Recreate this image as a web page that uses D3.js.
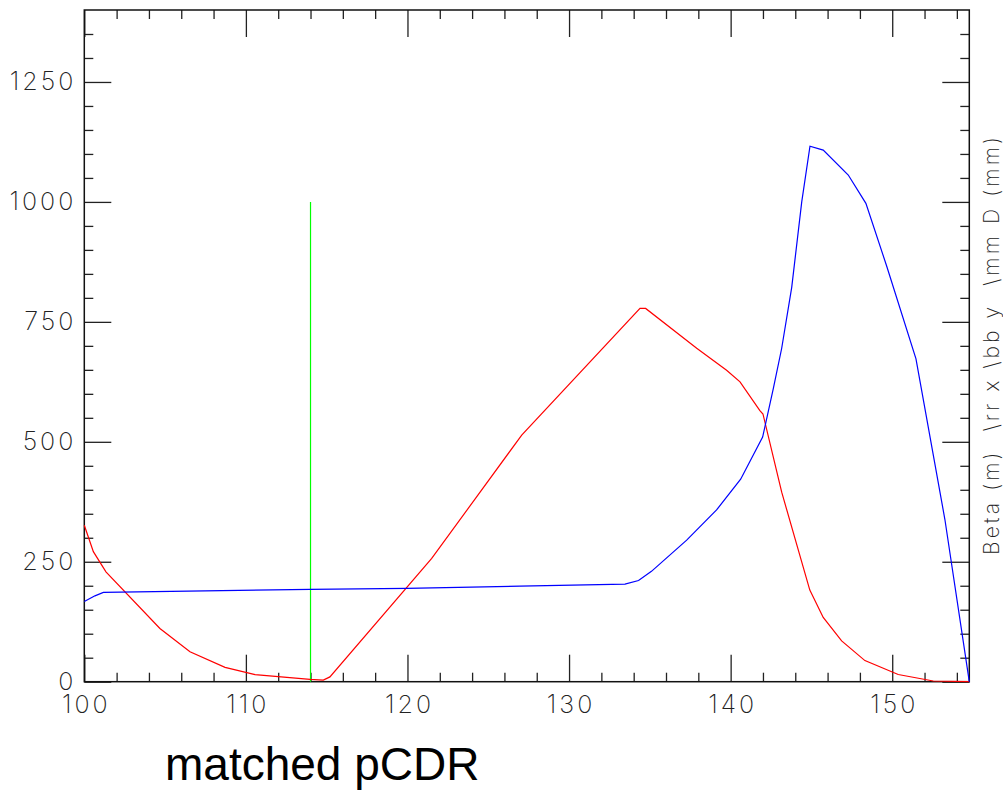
<!DOCTYPE html>
<html>
<head>
<meta charset="utf-8">
<script src="https://cdn.jsdelivr.net/npm/d3@7"></script>
<style>
  body { margin: 0; background: #fff; }
  svg { display: block; }
  .tick text { font-family: "Inter", "DejaVu Sans", sans-serif; font-weight: 200; fill: #222; letter-spacing: 3px; }
</style>
</head>
<body>
<svg id="chart"></svg>
<script>
// red curve (position along beamline vs value)
const redX = [100, 100.56, 101.34, 104.68, 106.54, 108.71, 110.57, 113.97, 114.79, 115.2,
  121.5, 127.07, 134.39, 134.74, 137.9, 139.75, 140.58, 141.81, 142.0, 143.16,
  144.9, 145.73, 146.87, 148.31, 150.37, 152.54, 154.77];
const redY = [326, 271, 229, 111, 62.5, 30, 14.6, 5, 3.5, 10,
  257, 514, 778, 778, 695, 649, 625, 565, 558, 395,
  191, 134, 85, 44, 15, 1.5, 0];

// blue curve
const blueX = [100, 100.66, 101.18, 113.97, 119.95, 126.96, 133.46, 134.3, 135.1, 137.28,
  139.13, 140.62, 141.98, 142.64, 143.16, 143.78, 144.4, 144.91, 145.73, 147.28,
  148.37, 149.65, 151.47, 153.26, 154.77];
const blueY = [167, 179, 186, 192.5, 194.5, 199, 203.5, 211, 230, 295,
  358, 422, 510, 611, 695, 822, 1000, 1116, 1108, 1056,
  997, 867, 673, 338, 0];

// green marker line
const greenX = [114, 114];
const greenY = [0, 1000];

const xMajorTicks = [100, 110, 120, 130, 140, 150];
const xTickLabels = ["100", "110", "120", "130", "140", "150"];
const yMajorTicks = [0, 250, 500, 750, 1000, 1250];
const yTickLabels = ["0", "250", "500", "750", "1000", "1250"];

const xDomain = [100, 154.77];
const yDomain = [0, 1400];

const W = 1003, H = 790;
const margin = {top: 10, right: 33.7, bottom: 108.3, left: 84.3};
const width = W - margin.left - margin.right;
const height = H - margin.top - margin.bottom;

const svg = d3.select("#chart").attr("width", W).attr("height", H);
const g = svg.append("g").attr("transform", `translate(${margin.left},${margin.top})`);

const x = d3.scaleLinear().domain(xDomain).range([0, width]);
const y = d3.scaleLinear().domain(yDomain).range([height, 0]);

const xMinor = d3.range(102, 155, 2).filter(v => v % 10 !== 0);
const yMinor = d3.range(50, 1400, 50).filter(v => v % 250 !== 0);

// styling helper for tick axes
function styleAxis(sel) {
  sel.select(".domain").remove();
  sel.selectAll(".tick line").attr("stroke", "#222").attr("stroke-width", 1.3);
}

// bottom
g.append("g").attr("transform", `translate(0,${height})`)
  .call(d3.axisBottom(x).tickValues(xMinor).tickSize(-9).tickFormat(""))
  .call(styleAxis);
g.append("g").attr("transform", `translate(0,${height})`)
  .call(d3.axisBottom(x).tickValues(xMajorTicks).tickSize(-27).tickPadding(14)
    .tickFormat((d, i) => xTickLabels[i]))
  .call(styleAxis)
  .selectAll("text").attr("font-size", 25).attr("dx", 1.5);

// top
g.append("g")
  .call(d3.axisTop(x).tickValues(xMinor).tickSize(-9).tickFormat(""))
  .call(styleAxis);
g.append("g")
  .call(d3.axisTop(x).tickValues(xMajorTicks).tickSize(-27).tickFormat(""))
  .call(styleAxis);

// left
g.append("g")
  .call(d3.axisLeft(y).tickValues(yMinor).tickSize(-9).tickFormat(""))
  .call(styleAxis);
g.append("g")
  .call(d3.axisLeft(y).tickValues(yMajorTicks).tickSize(-27).tickPadding(8)
    .tickFormat((d, i) => yTickLabels[i]))
  .call(styleAxis)
  .selectAll("text").attr("font-size", 25);

// right
g.append("g").attr("transform", `translate(${width},0)`)
  .call(d3.axisRight(y).tickValues(yMinor).tickSize(-9).tickFormat(""))
  .call(styleAxis);
g.append("g").attr("transform", `translate(${width},0)`)
  .call(d3.axisRight(y).tickValues(yMajorTicks).tickSize(-27).tickFormat(""))
  .call(styleAxis);

// frame
g.append("rect")
  .attr("x", 0).attr("y", 0).attr("width", width).attr("height", height)
  .attr("fill", "none").attr("stroke", "#111").attr("stroke-width", 1.5);

const line = d3.line().x(d => x(d[0])).y(d => y(d[1]));

function drawSeries(xs, ys, color) {
  g.append("path")
    .datum(xs.map((v, i) => [v, ys[i]]))
    .attr("d", line)
    .attr("fill", "none")
    .attr("stroke", color)
    .attr("stroke-width", 1.2);
}

drawSeries(greenX, greenY, "#00ff00");
drawSeries(redX, redY, "#ff0000");
drawSeries(blueX, blueY, "#0000ff");

// right side axis title
svg.append("text")
  .attr("transform", `translate(999,346) rotate(-90)`)
  .attr("text-anchor", "middle")
  .attr("font-family", "Inter, 'DejaVu Sans', sans-serif")
  .attr("font-weight", 200)
  .attr("font-size", 21)
  .attr("fill", "#222")
  .style("white-space", "pre")
  .attr("textLength", 418)
  .attr("lengthAdjust", "spacing")
  .text("Beta (m)  \\rr x \\bb y  \\mm D (mm)");

// caption
svg.append("text")
  .attr("x", 165).attr("y", 780)
  .attr("font-family", "'Liberation Sans', Arial, sans-serif")
  .attr("font-size", 46)
  .attr("fill", "#000")
  .text("matched pCDR");
</script>
</body>
</html>
